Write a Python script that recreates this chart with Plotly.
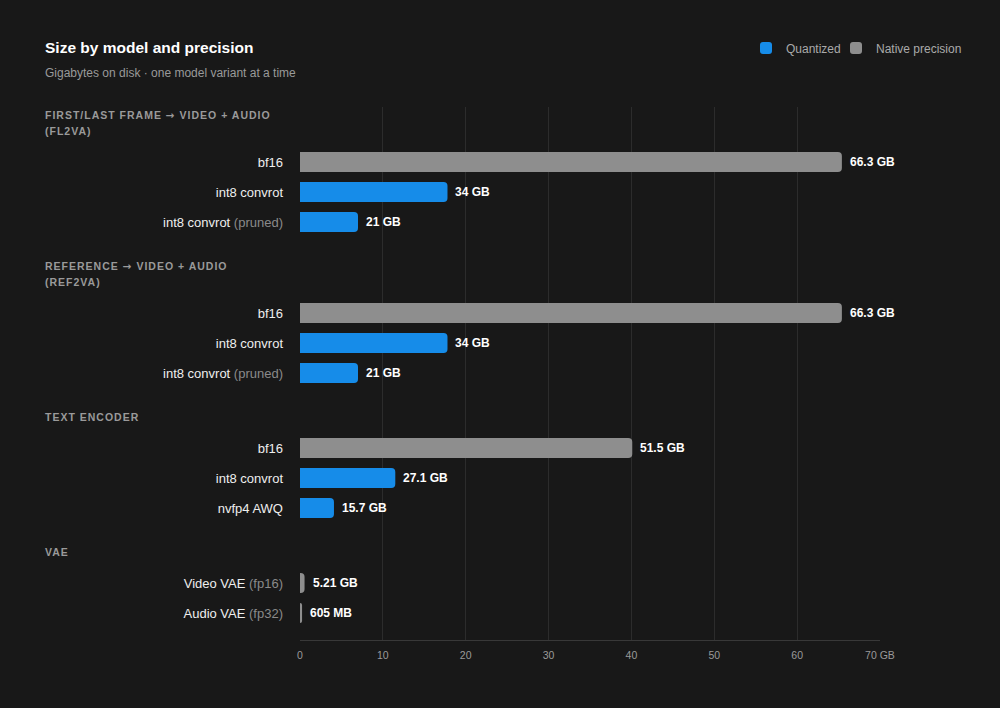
import plotly.graph_objects as go

# ---------------- data ----------------
groups = [
    "FIRST/LAST FRAME → VIDEO + AUDIO|(FL2VA)",
    "REFERENCE → VIDEO + AUDIO|(REF2VA)",
    "TEXT ENCODER",
    "VAE",
]
row_group = [0, 0, 0, 1, 1, 1, 2, 2, 2, 3, 3]
row_name = ["bf16", "int8 convrot", "int8 convrot",
            "bf16", "int8 convrot", "int8 convrot",
            "bf16", "int8 convrot", "nvfp4 AWQ",
            "Video VAE", "Audio VAE"]
row_note = ["", "", "(pruned)",
            "", "", "(pruned)",
            "", "", "",
            "(fp16)", "(fp32)"]
row_kind = ["Native", "Quantized", "Quantized",
            "Native", "Quantized", "Quantized",
            "Native", "Quantized", "Quantized",
            "Native", "Native"]
# bar lengths as they appear against the x axis
bar_len = [65.4, 17.8, 7.0,
           65.4, 17.8, 7.0,
           40.1, 11.5, 4.1,
           0.55, 0.25]
size_label = ["66.3 GB", "34 GB", "21 GB",
              "66.3 GB", "34 GB", "21 GB",
              "51.5 GB", "27.1 GB", "15.7 GB",
              "5.21 GB", "605 MB"]
x_ticks = [0, 10, 20, 30, 40, 50, 60, 70]
x_tick_text = ["0", "10", "20", "30", "40", "50", "60", "70 GB"]

# ---------------- style ----------------
BG = "#181818"
BLUE = "#168ce9"
GREY = "#8e8e8e"
FONT = "Liberation Sans, Arial, sans-serif"
L, R, T, B = 300, 120, 107, 68
W, H = 1000, 708
PH = H - T - B
PW = W - L - R

# vertical layout (in pixels from plot top)
HEAD_FIRST, HEAD_LINE, HEAD_TO_ROW, ROW, ROW_TO_HEAD = 8, 16, 31, 30, 44
head_pos = []  # (y, text)
row_y = []
cur = HEAD_FIRST
for gi, g in enumerate(groups):
    lines = g.split("|")
    for li, ln in enumerate(lines):
        head_pos.append((cur + li * HEAD_LINE, ln))
    last_head = cur + (len(lines) - 1) * HEAD_LINE
    n = sum(1 for rg in row_group if rg == gi)
    for k in range(n):
        row_y.append(last_head + HEAD_TO_ROW + k * ROW)
    cur = row_y[-1] + ROW_TO_HEAD

fig = go.Figure()
for kind, name, color, lg in [("Quantized", "Quantized", BLUE, "legend"),
                              ("Native", "Native precision", GREY, "legend2")]:
    idx = [i for i, k in enumerate(row_kind) if k == kind]
    fig.add_trace(go.Bar(
        orientation="h",
        x=[bar_len[i] for i in idx],
        y=[row_y[i] for i in idx],
        width=20,
        marker=dict(color=color, line=dict(width=0)),
        name=name,
        legend=lg,
        hoverinfo="skip",
    ))

ticktext = []
for nm, nt in zip(row_name, row_note):
    t = nm
    if nt:
        t += " <span style='color:#8a8a8a'>" + nt + "</span>"
    ticktext.append(t)

ann = []
for y, txt in head_pos:
    txt = txt.replace("→", "<span style='font-family:DejaVu Sans'>→</span>")
    ann.append(dict(
        x=(43 - L) / PW, xref="paper", y=y, yref="y",
        xanchor="left", yanchor="middle", showarrow=False,
        text="<span style='letter-spacing:1px'>" + txt + "</span>",
        font=dict(family=FONT, size=10.5, color="#9a9a9a", weight=700),
    ))
for xv, yv, lab in zip(bar_len, row_y, size_label):
    ann.append(dict(
        x=xv, xref="x", y=yv, yref="y", xanchor="left", yanchor="middle",
        xshift=6, showarrow=False, text=lab,
        font=dict(family=FONT, size=12, color="#ffffff", weight=700),
    ))
ann.append(dict(
    x=(43 - L) / PW, xref="paper", y=1 + (T - 73) / PH, yref="paper",
    xanchor="left", yanchor="middle", showarrow=False,
    text="Gigabytes on disk · one model variant at a time",
    font=dict(family=FONT, size=12, color="#9a9a9a"),
))

leg_common = dict(orientation="h", xanchor="left",
                  y=1 + (T - 48) / PH, yanchor="middle",
                  font=dict(family=FONT, size=12, color="#aaaaaa"),
                  bgcolor="rgba(0,0,0,0)")

fig.update_layout(
    width=W, height=H,
    paper_bgcolor=BG, plot_bgcolor=BG,
    margin=dict(l=L, r=R, t=T, b=B),
    barmode="overlay",
    barcornerradius=4,
    font=dict(family=FONT, color="#eeeeee"),
    title=dict(text="Size by model and precision", x=45 / W, xref="container",
               xanchor="left", y=1 - 48 / H, yref="container", yanchor="middle",
               font=dict(family=FONT, size=15.5, color="#ffffff", weight=700)),
    legend=dict(x=(746 - L) / PW, **leg_common),
    legend2=dict(x=(836 - L) / PW, **leg_common),
    showlegend=True,
    annotations=ann,
    xaxis=dict(range=[0, 70], tickvals=x_ticks, ticktext=x_tick_text,
               showgrid=True, gridcolor="#2c2c2c", gridwidth=1,
               zeroline=False, showline=True, linecolor="#383838",
               ticks="", ticklabelstandoff=5,
               tickfont=dict(family=FONT, size=10.5, color="#9a9a9a"),
               fixedrange=True),
    yaxis=dict(range=[PH, 0], tickvals=row_y, ticktext=ticktext,
               showgrid=False, zeroline=False, showline=False,
               ticks="", ticklabelstandoff=16,
               tickfont=dict(family=FONT, size=13, color="#eeeeee"),
               fixedrange=True),
)
fig.write_html(
    "out.html",
    config={"displayModeBar": False},
    post_script="document.body.style.margin='0';document.body.style.overflow='hidden';",
)
